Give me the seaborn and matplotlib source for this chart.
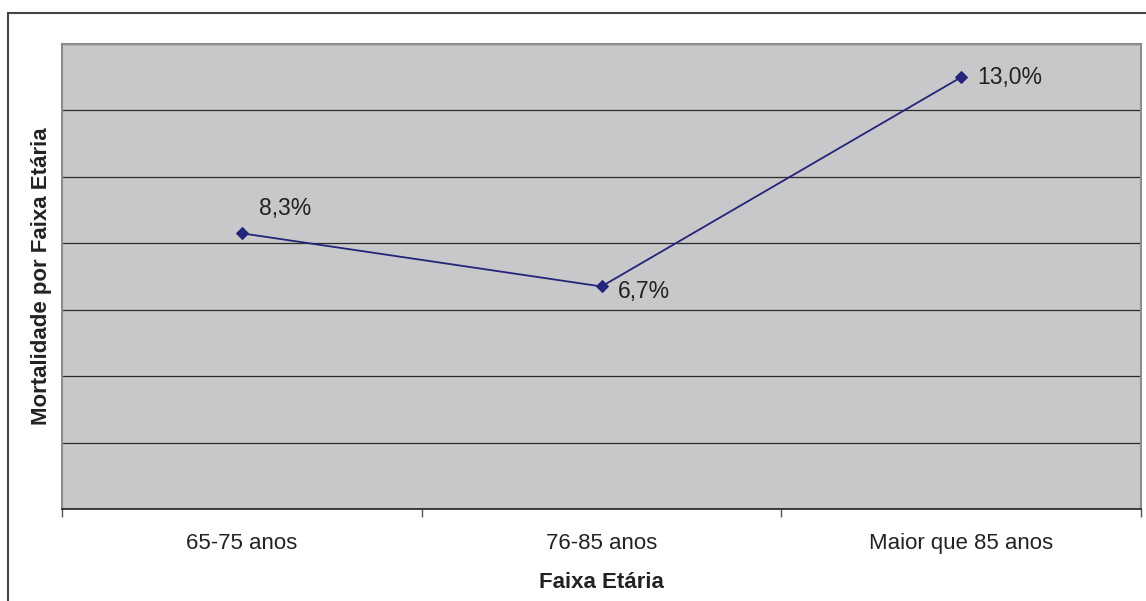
import matplotlib
matplotlib.use("Agg")
import matplotlib.pyplot as plt
import seaborn as sns
import pandas as pd
from matplotlib.patches import Rectangle
from matplotlib.ticker import FixedLocator

# Mortality by age group
categories = ["65-75 anos", "76-85 anos", "Maior que 85 anos"]
mortality = [8.3, 6.7, 13.0]
value_labels = ["8,3%", "6,7%", "13,0%"]

sns.set_theme(style="white")
plt.rcParams["font.family"] = ["Liberation Sans", "DejaVu Sans"]

W, H = 1146, 601
fig = plt.figure(figsize=(W / 100, H / 100), dpi=100)
ax = fig.add_axes([62 / W, 1 - 509 / H, (1141 - 62) / W, (509 - 44) / H])
ax.set_facecolor("#C8C8CA")

df = pd.DataFrame({"pos": range(len(categories)), "Mortalidade": mortality})
line_color = "#24247A"
sns.lineplot(data=df, x="pos", y="Mortalidade", ax=ax, color=line_color,
             linewidth=1.3, marker="D", markersize=6.5, markeredgecolor=line_color,
             zorder=3)

ax.set_ylim(0, 14)
ax.set_xlim(-0.5, len(categories) - 0.5)
ax.set_yticks(range(0, 15, 2))
ax.set_yticklabels([])
ax.tick_params(axis="y", length=0)
ax.yaxis.grid(True, color="#2A2A2A", linewidth=0.9)
ax.set_axisbelow(True)

# category boundaries carry tick marks, labels sit at category centres
ax.xaxis.set_major_locator(FixedLocator([i - 0.5 for i in range(len(categories) + 1)]))
ax.set_xticklabels([])
ax.xaxis.set_minor_locator(FixedLocator(list(range(len(categories)))))
ax.set_xticklabels(categories, minor=True)
ax.tick_params(axis="x", which="major", length=6, width=1, color="#555555", direction="out", bottom=True)
ax.tick_params(axis="x", which="minor", length=0, pad=17, labelsize=16, labelcolor="#222222")

for side in ["top", "right", "left"]:
    ax.spines[side].set_color("#8C8C8C")
    ax.spines[side].set_linewidth(1.5)
ax.spines["bottom"].set_color("#222222")
ax.spines["bottom"].set_linewidth(1.2)

ax.set_xlabel("Faixa Etária", fontsize=16, fontweight="bold", color="#222222", labelpad=13)
ax.set_ylabel("Mortalidade por Faixa Etária", fontsize=16, fontweight="bold", color="#222222", labelpad=4)

offsets = [(12, 18), (11.5, -3.5), (11.5, 0)]
for i, (v, t) in enumerate(zip(mortality, value_labels)):
    ax.annotate(t, (i, v), xytext=offsets[i], textcoords="offset points", fontsize=16.5,
                color="#222222", ha="left", va="center")

# outer chart frame
fig.patches.append(Rectangle((8 / W, -0.1), 1.2, 1 - 13 / H + 0.1, transform=fig.transFigure,
                             fill=False, edgecolor="#444444", linewidth=1.5))

fig.savefig("out.png", dpi=100)
